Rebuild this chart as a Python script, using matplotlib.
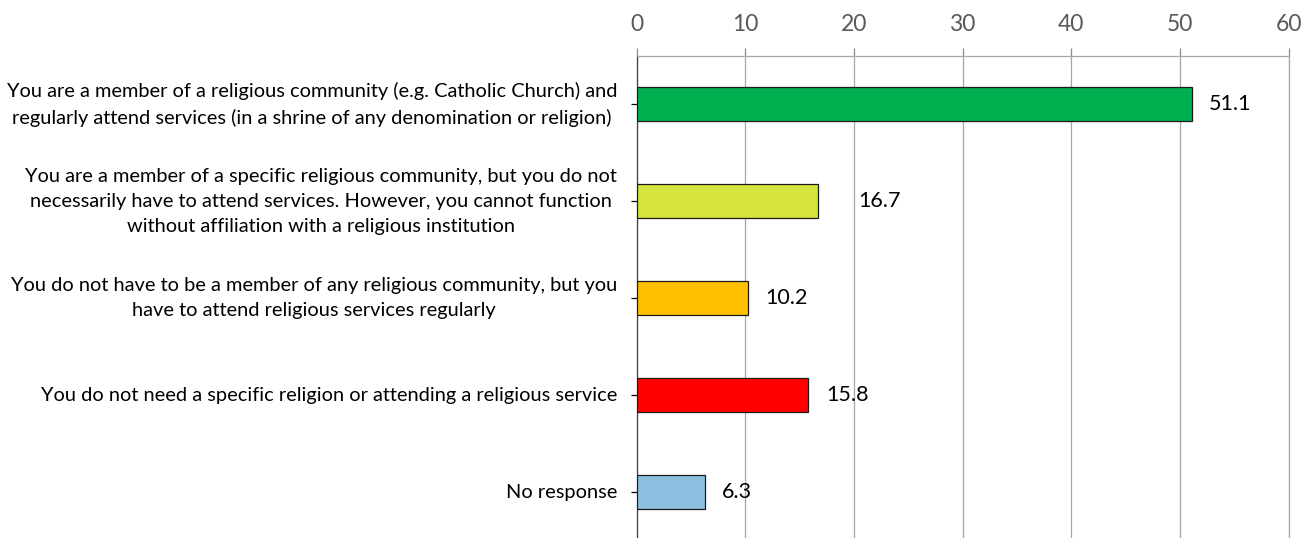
import matplotlib
matplotlib.use("Agg")
import matplotlib.pyplot as plt

# survey answers, top to bottom
categories = [
    "You are a member of a religious community (e.g. Catholic Church) and\n"
    "regularly attend services (in a shrine of any denomination or religion)",
    "You are a member of a specific religious community, but you do not\n"
    "necessarily have to attend services. However, you cannot function\n"
    "without affiliation with a religious institution",
    "You do not have to be a member of any religious community, but you\n"
    "have to attend religious services regularly",
    "You do not need a specific religion or attending a religious service",
    "No response",
]
values = [51.1, 16.7, 10.2, 15.8, 6.3]
bar_colors = ["#00B050", "#D4E43C", "#FFC000", "#FF0000", "#8DC0E0"]
x_ticks = [0, 10, 20, 30, 40, 50, 60]

# label gap after each bar end (points)
label_gap = [12, 29, 13, 13, 12]

plt.rcParams["font.family"] = ["Lato", "DejaVu Sans"]

W, H = 1313, 538
fig = plt.figure(figsize=(W / 100, H / 100), dpi=100)
left, right, top, bottom = 636.7, 1288.7, 56, 540.6
ax = fig.add_axes([left / W, 1 - bottom / H, (right - left) / W, (bottom - top) / H])

ypos = list(range(len(categories)))
ax.barh(ypos, values, height=0.35, color=bar_colors, edgecolor="#1a1a1a",
        linewidth=0.9, zorder=3)

for y, v, g in zip(ypos, values, label_gap):
    ax.annotate(f"{v:.1f}", xy=(v, y), xytext=(g, 0), textcoords="offset points",
                ha="left", va="center", fontsize=15.5, color="black", zorder=4)

ax.set_xlim(0, 60)
ax.set_ylim(len(categories) - 0.5, -0.5)

ax.xaxis.tick_top()
ax.set_xticks(x_ticks)
ax.set_xticklabels([str(t) for t in x_ticks], fontsize=16.5, color="#595959")
ax.tick_params(axis="x", direction="out", length=6, width=0.9, color="#8c8c8c", pad=9)
ax.grid(axis="x", color="#a6a6a6", linewidth=0.9, zorder=0)

ax.set_yticks(ypos)
ax.set_yticklabels(categories, fontsize=14.4, multialignment="center", linespacing=1.55)
for lab in ax.get_yticklabels():
    lab.set_va("center")
ax.tick_params(axis="y", direction="out", length=4, width=0.9, color="black", pad=10)

ax.spines["bottom"].set_visible(False)
ax.spines["left"].set_color("#404040")
ax.spines["top"].set_color("#a6a6a6")
ax.spines["right"].set_color("#a6a6a6")
for s in ax.spines.values():
    s.set_linewidth(0.9)

fig.savefig("out.png", dpi=100)
